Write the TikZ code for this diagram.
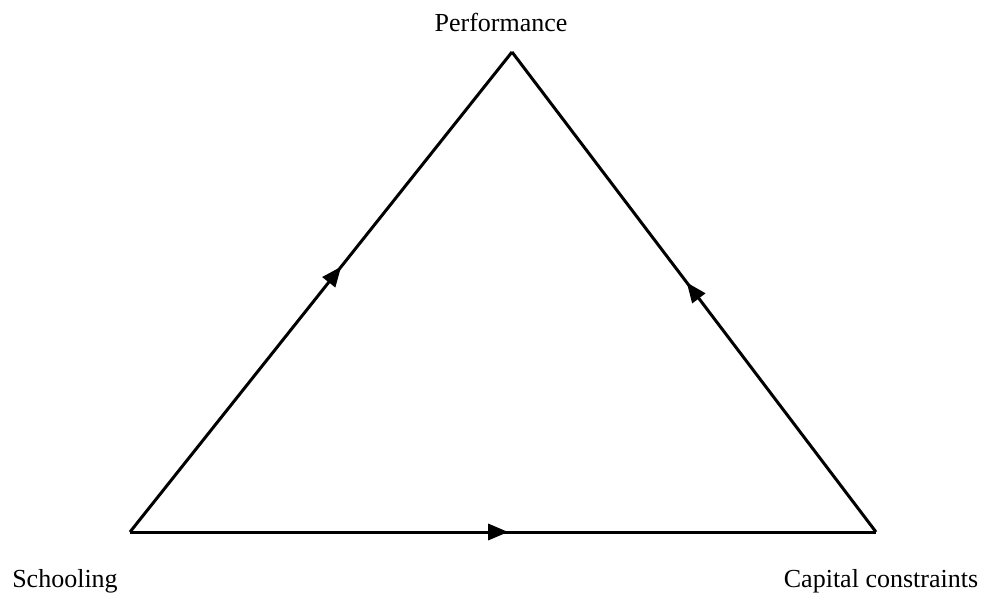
\documentclass[tikz,border=0pt]{standalone}
\usepackage{fontspec}
\setmainfont{Liberation Serif}
\usetikzlibrary{arrows.meta,decorations.markings}
\begin{document}
\begin{tikzpicture}[x=1pt,y=-1pt,
  edge/.style={line width=3pt,line join=miter},
  midarrow/.style={postaction={decorate},decoration={markings,
     mark=at position #1 with {\arrow{Triangle[length=20pt,width=16pt]}}}},
  lbl/.style={font=\fontsize{26}{30}\selectfont,inner sep=0pt,anchor=base}]
\useasboundingbox (0,0) rectangle (986,600);
\coordinate (P) at (512,52);
\coordinate (S) at (130,532);
\coordinate (C) at (876,532);
\node[lbl] (pl) at (501,31) {Performance};
\node[lbl] (sl) at (65,587) {Schooling};
\node[lbl] (cl) at (881,587) {Capital constraints};
\draw[edge,midarrow=0.553] (S) -- (P);
\draw[edge,midarrow=0.52] (C) -- (P);
\draw[edge,midarrow=0.507] (S) -- (C);
\end{tikzpicture}
\end{document}
